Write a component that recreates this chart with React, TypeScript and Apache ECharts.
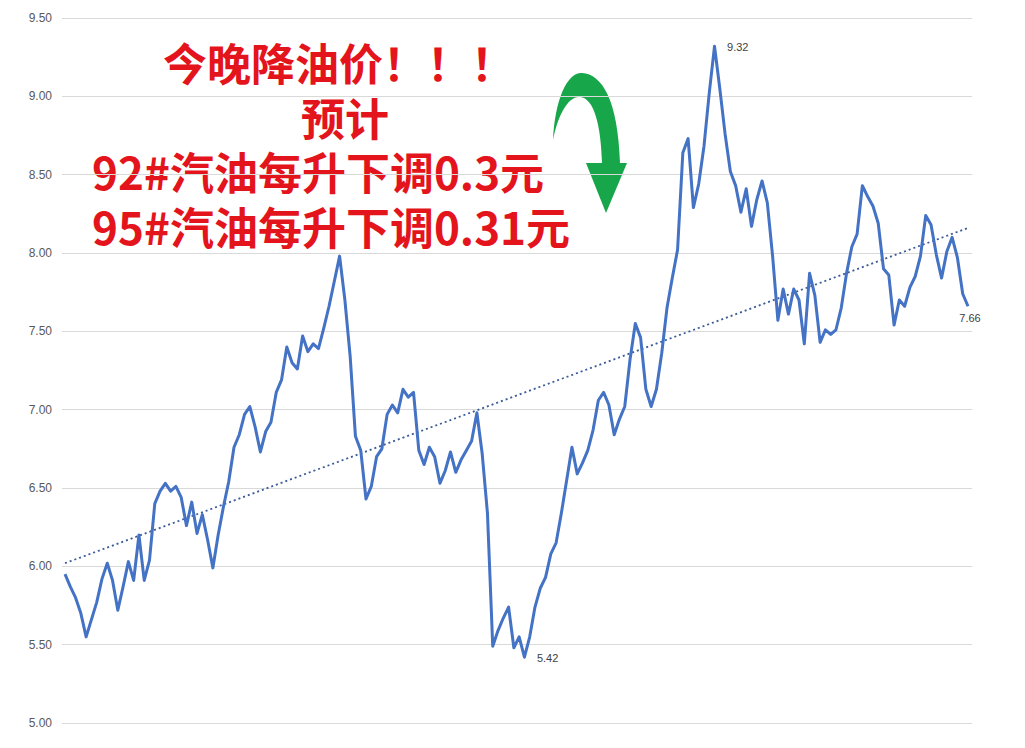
import React, { useEffect, useRef } from 'react';
import * as echarts from 'echarts';

// 每日价格(从左到右)
const prices: number[] = [
  5.95, 5.87, 5.8, 5.7, 5.55, 5.66, 5.77, 5.92, 6.02, 5.91,
  5.72, 5.87, 6.03, 5.91, 6.2, 5.91, 6.04, 6.4, 6.48, 6.53,
  6.48, 6.51, 6.44, 6.26, 6.41, 6.21, 6.33, 6.17, 5.99, 6.2,
  6.38, 6.54, 6.76, 6.84, 6.97, 7.02, 6.89, 6.73, 6.86, 6.92,
  7.11, 7.19, 7.4, 7.3, 7.26, 7.47, 7.37, 7.42, 7.39, 7.52,
  7.66, 7.82, 7.98, 7.7, 7.34, 6.83, 6.74, 6.43, 6.51, 6.7,
  6.75, 6.97, 7.03, 6.98, 7.13, 7.08, 7.11, 6.74, 6.65, 6.76,
  6.7, 6.53, 6.61, 6.73, 6.6, 6.68, 6.74, 6.8, 6.98, 6.72,
  6.34, 5.49, 5.59, 5.67, 5.74, 5.48, 5.55, 5.42, 5.55, 5.74,
  5.86, 5.93, 6.08, 6.15, 6.34, 6.55, 6.76, 6.59, 6.66, 6.74,
  6.87, 7.06, 7.11, 7.03, 6.84, 6.94, 7.02, 7.32, 7.55, 7.46,
  7.13, 7.02, 7.13, 7.36, 7.65, 7.84, 8.02, 8.64, 8.73, 8.29,
  8.44, 8.68, 9.02, 9.32, 9.05, 8.76, 8.52, 8.43, 8.26, 8.41,
  8.17, 8.34, 8.46, 8.32, 7.98, 7.57, 7.77, 7.61, 7.77, 7.7,
  7.42, 7.87, 7.73, 7.43, 7.51, 7.48, 7.51, 7.65, 7.87, 8.04,
  8.12, 8.43, 8.36, 8.3, 8.19, 7.9, 7.86, 7.54, 7.7, 7.66,
  7.78, 7.85, 7.98, 8.24, 8.18, 7.99, 7.84, 8.01, 8.1, 7.97,
  7.74, 7.66,
];

// 趋势线两端
const trendValues: number[] = [6.02, 8.16];

// 标注点:最高、最低、最后
const labelled: { index: number; position: string; offset: number[] }[] = [
  { index: 123, position: 'right', offset: [7, 1] },
  { index: 87, position: 'right', offset: [7, 1] },
  { index: 171, position: 'bottom', offset: [2, 1] },
];

const titleLines: string[] = [
  '今晚降油价！！！',
  '预计',
  '92#汽油每升下调0.3元',
  '95#汽油每升下调0.31元',
];

const arrowPath =
  'M3 70 C5 30 17 2 32 3 C52 4 68 30 70 93 L77 93 L56 143 L36 93 L52 93 C51 55 44 28 30 27 C18 26 8 45 3 70 Z';

echarts.graphic.registerShape('downArrow', (echarts.graphic as any).extendPath(arrowPath, {}));

const App: React.FC = () => {
  const chartRef: any = useRef();

  useEffect(() => {
    const chart = echarts.init(chartRef.current, null, { renderer: 'svg' });
    const last = prices.length - 1;

    const lineData = prices.map((v, i) => [i, v]);

    const markData = labelled.map((l) => ({
      coord: [l.index, prices[l.index]],
      value: prices[l.index].toFixed(2),
      label: { position: l.position, offset: l.offset },
    }));

    const red = '#e3141b';
    const titleStyle = {
      fill: red,
      font: 'bold 44px "Noto Sans CJK SC"',
      lineHeight: 46,
      textVerticalAlign: 'middle',
    };

    const option = {
      animation: false,
      backgroundColor: '#ffffff',
      grid: { left: 62, right: 53, top: 18, bottom: 25 },
      xAxis: {
        type: 'value',
        min: -0.57,
        max: last + 0.76,
        show: false,
        splitLine: { show: false },
      },
      yAxis: {
        type: 'value',
        min: 5,
        max: 9.5,
        interval: 0.5,
        axisLine: { show: false },
        axisTick: { show: false },
        axisLabel: {
          formatter: (v: number) => v.toFixed(2),
          color: '#595959',
          fontSize: 12,
          fontFamily: 'Liberation Sans',
          margin: 10,
        },
        splitLine: { lineStyle: { color: '#d9d9d9', width: 1 } },
      },
      series: [
        {
          type: 'line',
          data: [
            [0, trendValues[0]],
            [last, trendValues[1]],
          ],
          symbol: 'none',
          lineStyle: { color: '#3a5a98', width: 1.8, type: [2, 3] },
          z: 1,
        },
        {
          type: 'line',
          data: lineData,
          symbol: 'none',
          lineStyle: { color: '#4472c4', width: 3, join: 'round' },
          z: 2,
          markPoint: {
            symbol: 'circle',
            symbolSize: 1,
            itemStyle: { color: 'rgba(0,0,0,0)' },
            label: {
              show: true,
              formatter: '{c}',
              color: '#404040',
              fontSize: 11,
              fontFamily: 'Liberation Sans',
            },
            data: markData,
          },
        },
      ],
      graphic: [
        {
          type: 'text',
          x: 339,
          y: 62,
          style: { ...titleStyle, text: titleLines[0], textAlign: 'center' },
        },
        {
          type: 'text',
          x: 345,
          y: 117,
          style: { ...titleStyle, text: titleLines[1], textAlign: 'center' },
        },
        {
          type: 'text',
          x: 92,
          y: 171,
          style: { ...titleStyle, text: titleLines[2], textAlign: 'left' },
        },
        {
          type: 'text',
          x: 92,
          y: 226,
          style: { ...titleStyle, text: titleLines[3], textAlign: 'left' },
        },
        {
          type: 'downArrow',
          x: 550,
          y: 70,
          style: { fill: '#18a64a' },
        },
      ],
    };

    chart.setOption(option as any);
    return () => {
      chart.dispose();
    };
  }, []);

  return (
    <div
      ref={chartRef}
      style={{ position: 'fixed', left: 0, top: 0, width: 1025, height: 748 }}
    ></div>
  );
};

export default App;
